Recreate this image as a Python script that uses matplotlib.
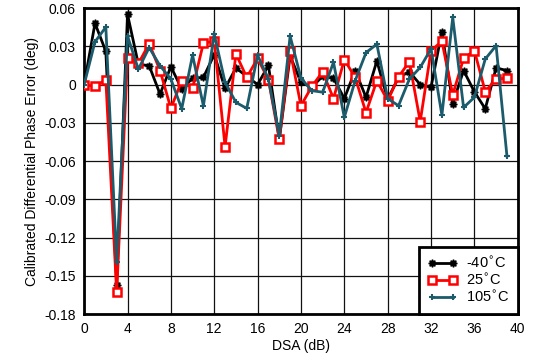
import matplotlib
matplotlib.use("Agg")
import matplotlib.pyplot as plt
import numpy as np

plt.rcParams['font.family'] = ['Liberation Sans', 'DejaVu Sans']

dsa = list(range(40))
black_m40 = [0, 0.048, 0.026, -0.157, 0.055, 0.016, 0.0147, -0.0075, 0.014, -0.0035,
             0.005, 0.0056, 0.0235, -0.003, 0.013, 0.0064, 0.0, 0.015, -0.043, 0.0225,
             0.0017, -0.002, 0.0065, 0.005, -0.011, 0.011, -0.010, 0.0185, -0.0115, 0.0056,
             0.010, 0.0, -0.002, 0.0415, -0.015, 0.011, -0.0057, -0.019, 0.013, 0.011]
red_25 = [0, -0.0015, 0.0038, -0.163, 0.021, 0.0165, 0.032, 0.011, -0.0187, 0.003,
          -0.003, 0.0325, 0.034, -0.0487, 0.024, 0.0056, 0.0205, 0.0038, -0.043, 0.0265,
          -0.0166, -0.0015, 0.010, -0.011, 0.0195, 0.0056, -0.022, 0.003, -0.0126, 0.006,
          0.018, -0.029, 0.0265, 0.034, -0.008, 0.0205, 0.0265, -0.0055, 0.0043, 0.005]
teal_105 = [0, 0.0335, 0.045, -0.139, 0.038, 0.012, 0.029, 0.0147, 0.0043, -0.019,
            0.023, -0.0166, 0.0395, 0.0017, -0.014, -0.0187, 0.023, 0.0043, -0.040, 0.038,
            0.005, -0.0048, -0.006, 0.0174, -0.0257, 0.003, 0.025, 0.0317, -0.011, -0.0166,
            0.0043, 0.0134, 0.028, -0.024, 0.0526, -0.018, -0.010, 0.020, 0.0305, -0.056]
labels = ['-40$^{\\circ}$C', '25$^{\\circ}$C', '105$^{\\circ}$C']
xticks = list(range(0, 41, 4))
yticks = [-0.18, -0.15, -0.12, -0.09, -0.06, -0.03, 0, 0.03, 0.06]
yticklabels = ['-0.18', '-0.15', '-0.12', '-0.09', '-0.06', '-0.03', '0', '0.03', '0.06']

fig = plt.figure(figsize=(5.36, 3.64), dpi=100)
ax = fig.add_axes([0.157, 0.137, 0.809, 0.841])

ax.plot(dsa, black_m40, color='black', lw=2, marker=(8, 1, 0), ms=5.5,
        mfc='black', mec='black', label=labels[0], zorder=3)
ax.plot(dsa, red_25, color='#FF0000', lw=2, marker='s', ms=5.5, mfc='white',
        mec='#FF0000', mew=1.8, label=labels[1], zorder=4)
ax.plot(dsa, teal_105, color='#1B5B6B', lw=2, marker='+', ms=5, mew=1.5,
        mec='#1B5B6B', label=labels[2], zorder=5)

ax.set_xlim(0, 40)
ax.set_ylim(-0.18, 0.06)
ax.set_xticks(xticks)
ax.set_yticks(yticks)
ax.set_yticklabels(yticklabels)
ax.grid(True, color='#111111', lw=0.9)
ax.set_axisbelow(True)
ax.tick_params(length=0, labelsize=10, pad=6)
for s in ax.spines.values():
    s.set_linewidth(2)
    s.set_color('black')

ax.set_xlabel('DSA (dB)', fontsize=10, labelpad=2)
ax.set_ylabel('Calibrated Differential Phase Error (deg)', fontsize=10, labelpad=4)

leg = ax.legend(loc='lower right', borderaxespad=0, fancybox=False, numpoints=2,
                fontsize=10.5, handlelength=2.0, handletextpad=0.6,
                labelspacing=0.15, borderpad=0.6, framealpha=1)
leg.get_frame().set_edgecolor('black')
leg.get_frame().set_linewidth(2)

fig.savefig('out.png', dpi=100)
